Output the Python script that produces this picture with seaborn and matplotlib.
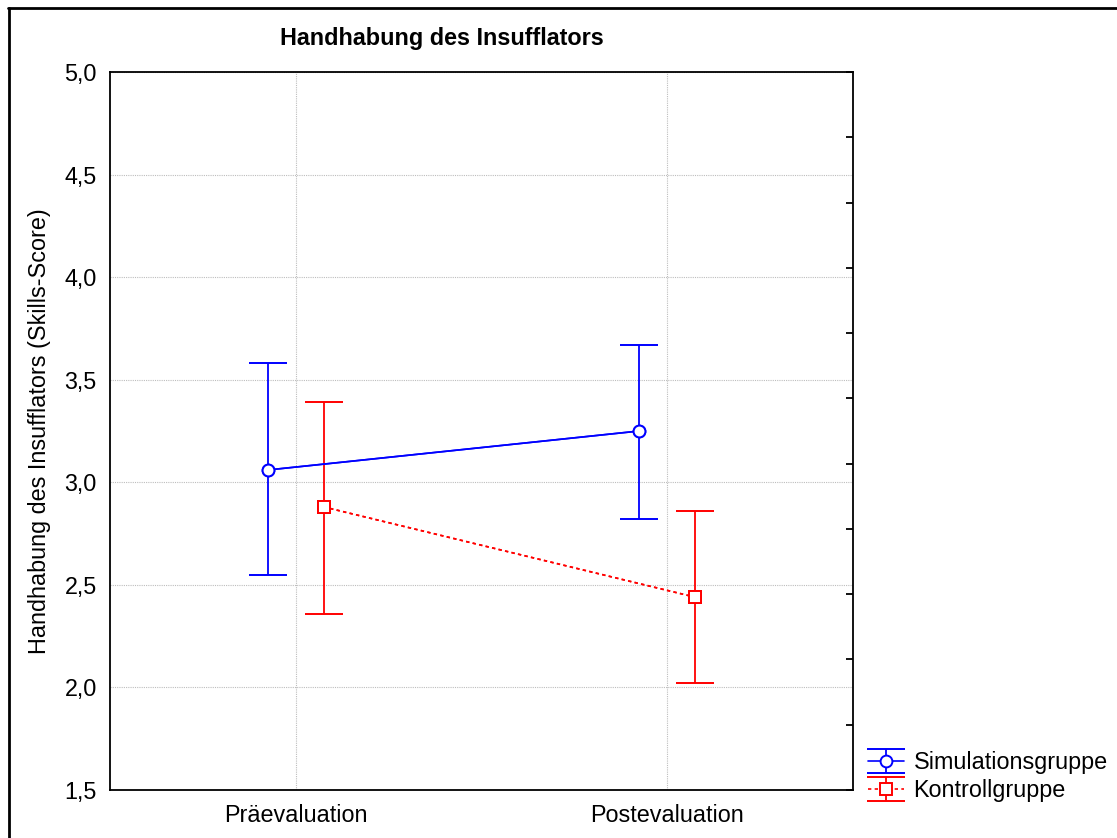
import numpy as np
import pandas as pd
import matplotlib
matplotlib.use("Agg")
import matplotlib.pyplot as plt
import seaborn as sns
from matplotlib.lines import Line2D

# ---- data ----
phases = ["Präevaluation", "Postevaluation"]
groups = ["Simulationsgruppe", "Kontrollgruppe"]
sim_mean = [3.06, 3.25]
sim_lo = [2.55, 2.82]
sim_hi = [3.58, 3.67]
kon_mean = [2.88, 2.44]
kon_lo = [2.36, 2.02]
kon_hi = [3.39, 2.86]
ytick_vals = [1.5, 2.0, 2.5, 3.0, 3.5, 4.0, 4.5, 5.0]
ytick_labels = ["1,5", "2,0", "2,5", "3,0", "3,5", "4,0", "4,5", "5,0"]
title = "Handhabung des Insufflators"
ylabel = "Handhabung des Insufflators (Skills-Score)"

sns.set_style("white")
plt.rcParams["font.family"] = ["Liberation Sans", "DejaVu Sans"]
for k in ["text.color", "axes.labelcolor", "xtick.color", "ytick.color"]:
    plt.rcParams[k] = "black"
FS = 16.8

W, H = 1117, 838
fig = plt.figure(figsize=(W / 100, H / 100), dpi=100)
ax = fig.add_axes([110 / W, 1 - 790 / H, (853 - 110) / W, (790 - 72) / H])

blue = "#0000ff"
red = "#ff0000"
dodge = 0.075
base = np.arange(len(phases))

series = [
    (groups[0], sim_mean, sim_lo, sim_hi, blue, "o", "-", 8.5, -dodge),
    (groups[1], kon_mean, kon_lo, kon_hi, red, "s", (0, (2, 2)), 8.0, dodge),
]

handles = []
for name, m, lo, hi, col, mk, ls, ms, off in series:
    m = np.array(m); lo = np.array(lo); hi = np.array(hi)
    xs = base + off
    eb = ax.errorbar(xs, m, yerr=[m - lo, hi - m], fmt=mk, linestyle=ls,
                     color=col, linewidth=1.2, markersize=ms,
                     markerfacecolor="white", markeredgecolor=col,
                     markeredgewidth=1.4, ecolor=col,
                     elinewidth=1.3, capsize=13.7, capthick=1.3, zorder=3,
                     label=name)
    sns.lineplot(x=xs, y=m, ax=ax, color=col, linewidth=1.2, legend=False,
                 marker=mk, markersize=ms, markerfacecolor="white",
                 markeredgecolor=col, markeredgewidth=1.4, zorder=4)
    ax.lines[-1].set_linestyle(ls)
    handles.append(eb)

ax.set_xlim(-0.5, 1.5)
ax.set_ylim(1.5, 5.0)
ax.set_xticks(base)
ax.set_xticklabels(phases, fontsize=FS)
ax.set_yticks(ytick_vals)
ax.set_yticklabels(ytick_labels, fontsize=FS)
ax.tick_params(axis="y", length=0, pad=9.5)
ax.tick_params(axis="x", direction="in", length=4, width=1.2, pad=10)
ax.grid(True, color="#bdbdbd", linestyle=(0, (1, 1)), linewidth=0.8)
ax.set_axisbelow(True)
for s in ax.spines.values():
    s.set_color("black")
    s.set_linewidth(1.3)
ax.set_ylabel(ylabel, fontsize=FS)
ax.yaxis.set_label_coords(-0.079, 0.5)
ax.set_xlabel("")

ax2 = ax.twinx()
ax2.set_ylim(0, 11)
ax2.set_yticks(range(12))
ax2.tick_params(axis="y", direction="in", length=5, width=1.3, labelright=False)
for s in ax2.spines.values():
    s.set_visible(False)

fig.text(442 / W, 1 - 38 / H, title, ha="center", va="center",
         fontsize=FS, fontweight="bold")

fig.legend(handles, groups, loc="upper left",
           bbox_to_anchor=(868 / W, 1 - 751 / H), frameon=False,
           fontsize=FS, handlelength=1.55, handletextpad=0.4,
           labelspacing=0.22, borderpad=0, borderaxespad=0)

fig.add_artist(Line2D([8 / W, 1], [1 - 8.5 / H, 1 - 8.5 / H],
                      transform=fig.transFigure, color="black", lw=2))
fig.add_artist(Line2D([9.5 / W, 9.5 / W], [0, 1 - 8.5 / H],
                      transform=fig.transFigure, color="black", lw=2))

fig.savefig("out.png", dpi=100)
